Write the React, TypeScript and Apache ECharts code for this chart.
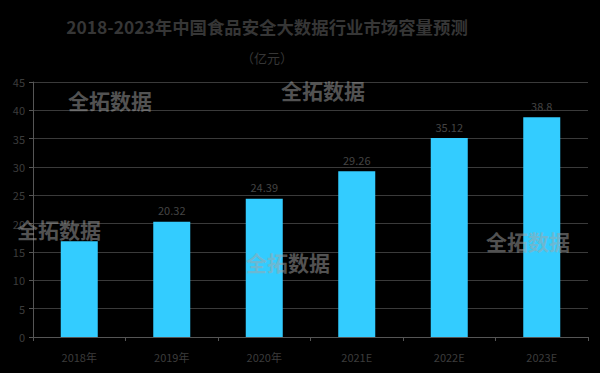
import React, { useEffect, useRef } from "react";
import * as echarts from "echarts";

const categories = ["2018年", "2019年", "2020年", "2021E", "2022E", "2023E"];
const values = [16.9, 20.32, 24.39, 29.26, 35.12, 38.8];
const showLabel = [false, true, true, true, true, true];
const watermarks = [
  { x: 68, y: 100 },
  { x: 17, y: 229 },
  { x: 281, y: 90 },
  { x: 246, y: 262 },
  { x: 486, y: 241 },
];

export default function App() {
  const ref = useRef<HTMLDivElement>(null);
  useEffect(() => {
    const chart = echarts.init(ref.current!, null, { renderer: "svg" });
    const font = "'Noto Sans CJK SC', 'Noto Sans', sans-serif";
    chart.setOption({
      animation: false,
      backgroundColor: "#000",
      textStyle: { fontFamily: font },
      title: {
        text: "2018-2023年中国食品安全大数据行业市场容量预测",
        subtext: "（亿元）",
        left: 262,
        textAlign: "center",
        top: 13,
        itemGap: 16,
        textStyle: { color: "#363636", fontSize: 17.4, fontWeight: "bold", fontFamily: font },
        subtextStyle: { color: "#363636", fontSize: 13, fontFamily: font },
      },
      grid: { left: 33, right: 12, top: 82, bottom: 36, containLabel: false },
      xAxis: {
        type: "category",
        data: categories,
        axisLine: { lineStyle: { color: "#555" } },
        axisTick: { show: true, lineStyle: { color: "#555" }, length: 4 },
        axisLabel: { color: "#3c3c3c", fontSize: 11, margin: 14 },
      },
      yAxis: {
        type: "value",
        min: 0,
        max: 45,
        interval: 5,
        axisLine: { show: true, lineStyle: { color: "#555" } },
        axisTick: { show: true, lineStyle: { color: "#555" }, length: 4 },
        axisLabel: { color: "#3c3c3c", fontSize: 11, margin: 8 },
        splitLine: { lineStyle: { color: "#3a3a3a" } },
      },
      series: [
        {
          type: "bar",
          barWidth: "40%",
          data: values.map((v, i) => ({
            value: v,
            label: { show: showLabel[i] },
          })),
          itemStyle: { color: "#33ccff" },
          label: {
            position: "top",
            color: "#444",
            fontSize: 11,
            distance: 6,
          },
        },
      ],
      graphic: watermarks.map((w) => ({
        type: "text",
        x: w.x,
        y: w.y,
        z: 100,
        style: {
          text: "全拓数据",
          fill: "rgba(165,165,165,0.5)",
          font: `bold 21px ${font}`,
          textVerticalAlign: "middle",
          verticalAlign: "middle",
        },
      })),
    });
    return () => chart.dispose();
  }, []);
  return <div ref={ref} style={{ width: 600, height: 373, position: "absolute", left: 0, top: 0 }} />;
}
